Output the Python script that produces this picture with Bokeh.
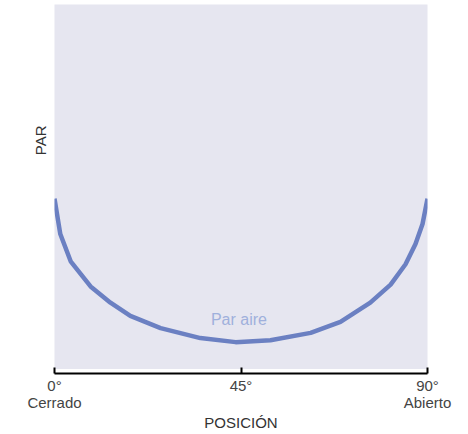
import numpy as np
from bokeh.plotting import figure
from bokeh.models import Label, BoxAnnotation, FixedTicker, Range1d, Title
from bokeh.embed import file_html
from bokeh.resources import INLINE

# data (position in degrees, torque in arbitrary units)
posicion = [0, 1.4, 3.9, 8.7, 13.5, 18.3, 25.6, 35.2, 43.7, 52.1, 61.8, 69.0, 76.2, 81.1, 84.7, 87.1, 88.8, 90]
par = [47.4, 37.8, 30.4, 23.6, 19.2, 15.6, 12.3, 9.6, 8.5, 9.0, 11.0, 14.0, 19.2, 24.1, 29.6, 35.1, 40.5, 47.4]
tick_values = [0, 45, 90]
tick_labels = {0: "0°\nCerrado", 45: "45°", 90: "90°\nAbierto"}
serie = "Par aire"

FONT = "Liberation Sans"

p = figure(width=468, height=434, output_backend="svg", toolbar_location=None,
           x_range=Range1d(0, 90), y_range=Range1d(0, 100),
           min_border_left=54, min_border_right=41, min_border_top=4, min_border_bottom=61)
p.background_fill_color = "#e6e6f0"
p.border_fill_color = "white"
p.outline_line_color = None
p.grid.visible = False
p.yaxis.visible = False

# white gap between frame and axis line
p.add_layout(BoxAnnotation(bottom=0, top=1.2, fill_color="white", fill_alpha=1,
                           line_color=None, level="underlay"))

p.line(posicion, par, line_color="#6b80c2", line_width=4.5)

p.add_layout(Label(x=44.5, y=14.5, text=serie, text_font=FONT, text_font_size="16px",
                   text_color="#9fb0dc", text_align="center", text_baseline="middle"))

p.add_layout(Title(text="PAR", align="right", offset=121, standoff=11, text_font=FONT,
                   text_font_size="15px", text_font_style="normal", text_color="#333333"), "left")

ax = p.xaxis[0]
ax.ticker = FixedTicker(ticks=tick_values)
ax.major_label_overrides = tick_labels
ax.minor_tick_line_color = None
ax.major_tick_in = 6
ax.major_tick_out = 0
ax.major_tick_line_width = 2
ax.major_tick_line_color = "black"
ax.axis_line_color = "black"
ax.axis_line_width = 2
ax.major_label_standoff = 3
ax.major_label_text_font = FONT
ax.major_label_text_font_size = "15px"
ax.major_label_text_line_height = 1.0
ax.major_label_text_color = "#444444"
ax.axis_label = "POSICIÓN"
ax.axis_label_text_font = FONT
ax.axis_label_text_font_size = "15px"
ax.axis_label_text_font_style = "normal"
ax.axis_label_text_color = "#333333"
ax.axis_label_standoff = 0

open("out.html", "w").write(file_html(p, INLINE))
